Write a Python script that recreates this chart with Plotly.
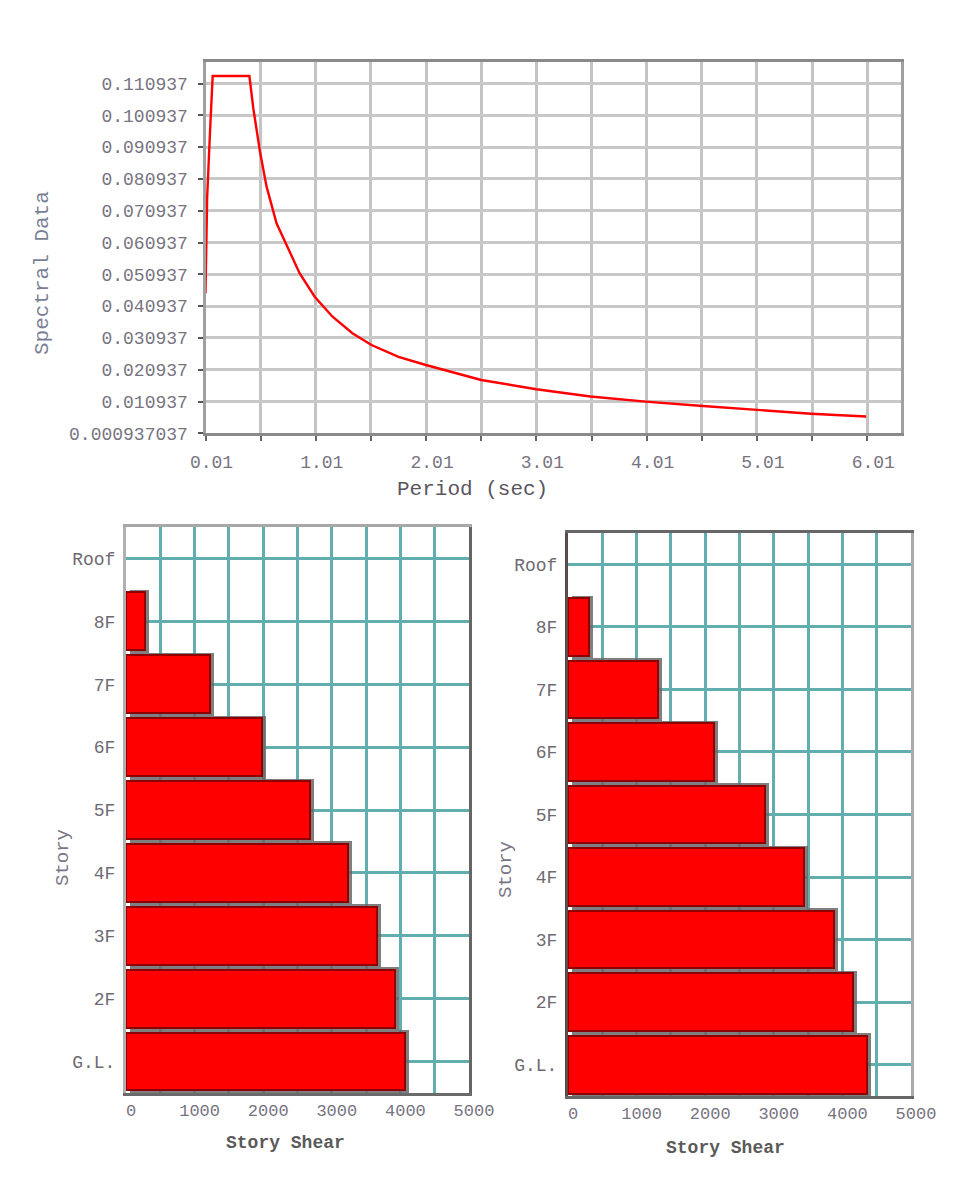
import plotly.graph_objects as go

# ---------------- data ----------------
period = [0.01, 0.025, 0.05, 0.075, 0.408, 0.444, 0.504, 0.564, 0.654, 0.743, 0.863,
          1.0, 1.162, 1.342, 1.515, 1.76, 2.0, 2.51, 3.01, 3.5, 4.0, 4.52, 5.0, 5.5, 6.0]
spectral = [0.045, 0.075, 0.095, 0.1133, 0.1133, 0.1030, 0.0895, 0.0785, 0.0670,
            0.0601, 0.0513, 0.0439, 0.0376, 0.0324, 0.0287, 0.0250, 0.0225, 0.0177, 0.0148,
            0.0125, 0.0109, 0.0095, 0.0083, 0.0071, 0.0062]

y_ticks = [0.000937037 + 0.01 * k for k in range(12)]
y_ticktext = ["0.000937037", "0.010937", "0.020937", "0.030937", "0.040937", "0.050937",
              "0.060937", "0.070937", "0.080937", "0.090937", "0.100937", "0.110937"]
x_ticks = [0.01 + 0.5 * k for k in range(13)]
x_ticktext = ["0.01", "", "1.01", "", "2.01", "", "3.01", "", "4.01", "", "5.01", "", "6.01"]

stories = ["G.L.", "2F", "3F", "4F", "5F", "6F", "7F", "8F", "Roof"]
shear_left = [4070, 3920, 3655, 3240, 2685, 1980, 1225, 270, None]
shear_right = [4365, 4160, 3880, 3445, 2870, 2130, 1305, 310, None]

shear_ticks = [500 * k for k in range(11)]
shear_ticktext = ["0", "", "1000", "", "2000", "", "3000", "", "4000", "", "5000"]

# ---------------- layout helpers ----------------
W, H = 955, 1182
def xd(a, b):
    return [a / W, b / W]
def yd(top, bottom):
    return [1 - bottom / H, 1 - top / H]

FONT = "Liberation Mono, DejaVu Sans Mono, monospace"
TICKCOL = "#77737f"
TEAL = "#62adad"

fig = go.Figure()

# top spectrum
fig.add_trace(go.Scatter(x=period, y=spectral, mode="lines",
                         line=dict(color="#ff0000", width=2.4),
                         xaxis="x", yaxis="y", showlegend=False))

# bottom charts: shadow (base axes) + main bars (overlay axes)
shadow_kw = dict(orientation="h", width=1.0, marker=dict(color="rgba(105,105,105,0.85)", line=dict(width=0)),
                 showlegend=False, hoverinfo="skip")
main_kw = dict(orientation="h", width=0.92, marker=dict(color="#ff0000", line=dict(color="#8f0000", width=2)),
               showlegend=False)

fig.add_trace(go.Bar(x=shear_left, y=stories, xaxis="x2", yaxis="y2", **shadow_kw))
fig.add_trace(go.Bar(x=shear_left, y=stories, xaxis="x3", yaxis="y3", **main_kw))
fig.add_trace(go.Bar(x=shear_right, y=stories, xaxis="x4", yaxis="y4", **shadow_kw))
fig.add_trace(go.Bar(x=shear_right, y=stories, xaxis="x5", yaxis="y5", **main_kw))

px_unit = 5000 / 343.0
shift = 4 * px_unit

tickfont = dict(family=FONT, size=18, color=TICKCOL)

layout = dict(
    width=W, height=H, margin=dict(l=0, r=0, t=0, b=0, pad=0, autoexpand=False),
    paper_bgcolor="white", plot_bgcolor="white",
    font=dict(family=FONT),
    bargap=0,
    # top chart
    xaxis=dict(domain=xd(205.5, 901), anchor="y", range=[0.01, 6.316], automargin=False,
               tickmode="array", tickvals=x_ticks, ticktext=x_ticktext,
               showgrid=True, gridcolor="#c4c4c4", gridwidth=2.5,
               ticks="outside", ticklen=5, tickwidth=2, tickcolor="#666",
               showline=True, linecolor="#8a8a8a", linewidth=3, mirror=True,
               zeroline=False, tickfont=tickfont, ticklabelstandoff=5, ticklabelshift=6),
    yaxis=dict(domain=yd(61.7, 433.3), anchor="x", range=[0.000937037, 0.1178], automargin=False,
               tickmode="array", tickvals=y_ticks, ticktext=y_ticktext,
               showgrid=True, gridcolor="#c8c8c8", gridwidth=2.5,
               ticks="outside", ticklen=5, tickwidth=2, tickcolor="#555",
               showline=True, linecolor="#a0a0a0", linewidth=3, mirror=True,
               zeroline=False, tickfont=tickfont, ticklabelstandoff=6),
)

def bottom_axes(bx, by, ox, oy, xdom, ydom, top_col, left_col, right_col, bottom_col):
    layout["xaxis%d" % bx] = dict(domain=xdom, anchor="y%d" % by, range=[-shift, 5000 - shift],
                                 automargin=False,
                                 showgrid=False, showticklabels=False, ticks="", zeroline=False,
                                 side="top", showline=True, linecolor=top_col, linewidth=3)
    layout["yaxis%d" % by] = dict(domain=ydom, anchor="x%d" % bx, type="category", automargin=False,
                                 categoryorder="array", categoryarray=stories, range=[-0.5, 8.5],
                                 showgrid=False, showticklabels=False, ticks="", zeroline=False,
                                 side="right", showline=True, linecolor=right_col, linewidth=3)
    layout["xaxis%d" % ox] = dict(overlaying="x%d" % bx, anchor="y%d" % oy, range=[0, 5000],
                                 automargin=False,
                                 tickmode="array", tickvals=shear_ticks, ticktext=shear_ticktext,
                                 showgrid=True, gridcolor=TEAL, gridwidth=2.5, zeroline=False,
                                 side="bottom", showline=True, linecolor=bottom_col, linewidth=3,
                                 ticks="", tickfont=dict(family=FONT, size=17, color=TICKCOL),
                                 ticklabelstandoff=0, ticklabelshift=5)
    layout["yaxis%d" % oy] = dict(overlaying="y%d" % by, anchor="x%d" % ox, type="category",
                                 automargin=False,
                                 categoryorder="array", categoryarray=stories, range=[-0.5, 8.5],
                                 showgrid=True, gridcolor=TEAL, gridwidth=2.5, zeroline=False,
                                 side="left", showline=True, linecolor=left_col, linewidth=3,
                                 ticks="", tickfont=dict(family=FONT, size=18, color="#6f6a72"),
                                 ticklabelstandoff=4)

bottom_axes(2, 2, 3, 3, xd(126, 469), yd(527, 1093), "#a8a8a8", "#b0b0b0", "#666666", "#6a6a6a")
bottom_axes(4, 4, 5, 5, xd(568, 911), yd(533, 1096), "#666666", "#5a4a4a", "#aaaaaa", "#666666")

fig.update_layout(**layout)

# axis titles
def ann(text, x, y, size, color, angle=0, bold=False):
    t = "<b>%s</b>" % text if bold else text
    fig.add_annotation(text=t, x=x / W, y=1 - y / H, xref="paper", yref="paper",
                       showarrow=False, textangle=angle, xanchor="center", yanchor="middle",
                       font=dict(family=FONT, size=size, color=color))

ann("Period (sec)", 472, 489, 21, "#5a5560")
ann("Spectral Data", 43, 273, 21, "#7a7f95", angle=-90)
ann("Story Shear", 285, 1143, 18, "#5a5a5a", bold=True)
ann("Story Shear", 725, 1148, 18, "#5a5a5a", bold=True)
ann("Story", 63, 858, 19, "#7a7585", angle=-90)
ann("Story", 506, 870, 19, "#7a7585", angle=-90)

fig.write_html("out.html", config={"displayModeBar": False},
               post_script="document.body.style.margin='0';document.body.style.overflow='hidden';")
